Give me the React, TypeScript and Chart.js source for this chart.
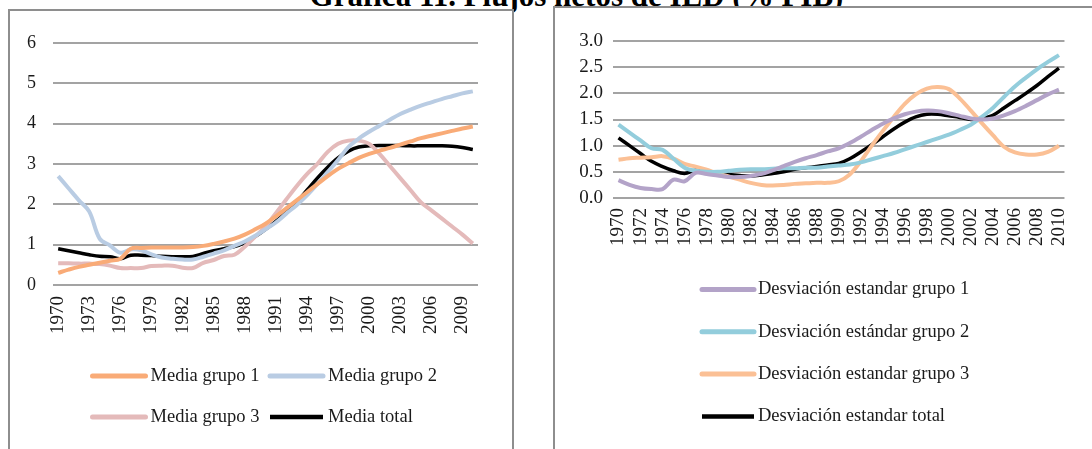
import React, { useEffect, useRef } from "react";
import { Chart, registerables } from "chart.js";

Chart.register(...registerables);

// ---------- DATA ----------
const years = [
  "1970", "1971", "1972", "1973", "1974", "1975", "1976", "1977", "1978", "1979",
  "1980", "1981", "1982", "1983", "1984", "1985", "1986", "1987", "1988", "1989",
  "1990", "1991", "1992", "1993", "1994", "1995", "1996", "1997", "1998", "1999",
  "2000", "2001", "2002", "2003", "2004", "2005", "2006", "2007", "2008", "2009",
  "2010",
];

const mediaGrupo1 = [
  0.3, 0.38, 0.45, 0.5, 0.55, 0.6, 0.65, 0.9, 0.92, 0.93,
  0.93, 0.93, 0.93, 0.94, 0.97, 1.02, 1.08, 1.15, 1.25, 1.38,
  1.52, 1.7, 1.9, 2.1, 2.3, 2.5, 2.7, 2.88, 3.02, 3.15,
  3.25, 3.33, 3.4, 3.48, 3.56, 3.64, 3.7, 3.76, 3.82, 3.88,
  3.93,
];
const mediaGrupo2 = [
  2.7, 2.4, 2.1, 1.82, 1.15, 0.98, 0.8, 0.88, 0.86, 0.76,
  0.68, 0.65, 0.63, 0.63, 0.7, 0.78, 0.86, 0.97, 1.08, 1.22,
  1.38, 1.55, 1.77, 1.98, 2.22, 2.5, 2.8, 3.1, 3.42, 3.63,
  3.8, 3.95, 4.1, 4.24, 4.35, 4.45, 4.53, 4.61, 4.68, 4.75,
  4.8,
];
const mediaGrupo3 = [
  0.54, 0.54, 0.53, 0.53, 0.52, 0.48, 0.42, 0.42, 0.42, 0.47,
  0.48, 0.48, 0.43, 0.42, 0.55, 0.62, 0.72, 0.75, 0.95, 1.2,
  1.45, 1.78, 2.12, 2.45, 2.75, 3.0, 3.3, 3.5, 3.58, 3.58,
  3.5, 3.25, 2.95, 2.65, 2.35, 2.05, 1.85, 1.65, 1.45, 1.25,
  1.03,
];
const mediaTotal = [
  0.9, 0.85, 0.8, 0.75, 0.71, 0.7, 0.65, 0.74, 0.74, 0.73,
  0.71, 0.7, 0.7, 0.71, 0.78, 0.85, 0.9, 0.95, 1.05, 1.2,
  1.38, 1.58, 1.8, 2.05, 2.35, 2.65, 2.92, 3.15, 3.32, 3.42,
  3.45, 3.46, 3.46, 3.46, 3.45, 3.45, 3.45, 3.45, 3.44, 3.41,
  3.36,
];

const desvGrupo1 = [
  0.34, 0.25, 0.19, 0.17, 0.17, 0.35, 0.32, 0.48, 0.46, 0.43,
  0.4, 0.4, 0.42, 0.46, 0.53, 0.61, 0.69, 0.76, 0.82, 0.89,
  0.95, 1.05, 1.17, 1.3, 1.42, 1.52, 1.6, 1.65, 1.67, 1.66,
  1.62, 1.57, 1.52, 1.5, 1.52, 1.58, 1.66, 1.76, 1.87, 1.98,
  2.07,
];
const desvGrupo2 = [
  1.4, 1.25, 1.1, 0.95, 0.92, 0.75, 0.58, 0.52, 0.5, 0.5,
  0.52, 0.54, 0.55, 0.55, 0.56, 0.57, 0.57, 0.58, 0.58, 0.6,
  0.62, 0.64, 0.68, 0.74, 0.8, 0.86, 0.93, 1.0, 1.07, 1.14,
  1.21, 1.3, 1.4, 1.55, 1.72, 1.93, 2.13, 2.3, 2.46, 2.6,
  2.73,
];
const desvGrupo3 = [
  0.73, 0.76, 0.77, 0.78, 0.8, 0.75, 0.65, 0.6, 0.54, 0.47,
  0.41, 0.35, 0.29, 0.25, 0.24, 0.25, 0.27, 0.28, 0.29, 0.29,
  0.32, 0.45, 0.7, 1.0, 1.28, 1.55, 1.8, 1.98, 2.09, 2.12,
  2.08, 1.9, 1.67, 1.43, 1.2, 0.98, 0.87, 0.83, 0.83, 0.88,
  1.0,
];
const desvTotal = [
  1.15, 1.0, 0.85, 0.7, 0.6, 0.52, 0.47, 0.53, 0.51, 0.48,
  0.45, 0.43, 0.42, 0.44, 0.47, 0.5, 0.55, 0.58, 0.6, 0.63,
  0.66, 0.75, 0.88, 1.02, 1.17, 1.32, 1.45, 1.55, 1.6, 1.6,
  1.57, 1.54, 1.5, 1.52, 1.58, 1.72, 1.86, 2.0, 2.15, 2.32,
  2.48,
];

const leftLabels = ["Media grupo 1", "Media grupo 2", "Media grupo 3", "Media total"];
const rightLabels = [
  "Desviación estandar grupo 1",
  "Desviación estándar grupo 2",
  "Desviación estandar grupo 3",
  "Desviación estandar total",
];
const titleText = "Gráfica 11. Flujos netos de IED (% PIB)";

// ---------- STYLE ----------
const FONT = '"Liberation Serif", "Times New Roman", serif';
const GRID = "#a3a3a3";
const TEXT = "#1a1a1a";

const lineLegend = {
  id: "lineLegend",
  afterDraw(chart: any, _args: any, opts: any) {
    const { ctx } = chart;
    ctx.save();
    ctx.font = `${opts.fontSize}px ${FONT}`;
    ctx.textBaseline = "middle";
    ctx.textAlign = "left";
    chart.data.datasets.forEach((d: any, i: number) => {
      const col = i % opts.columns;
      const row = Math.floor(i / opts.columns);
      const x = opts.x + col * opts.colWidth;
      const y = opts.y + row * opts.rowHeight;
      ctx.strokeStyle = d.borderColor;
      ctx.lineWidth = d.borderWidth + 1;
      ctx.lineCap = d.borderColor === "#000000" ? "butt" : "round";
      ctx.beginPath();
      ctx.moveTo(x + 2, y);
      ctx.lineTo(x + opts.sampleWidth - 2, y);
      ctx.stroke();
      ctx.fillStyle = TEXT;
      ctx.fillText(d.label, x + opts.textOffset, y);
    });
    ctx.restore();
  },
};

function makeDataset(label: string, data: number[], color: string, width: number) {
  return {
    label,
    data,
    borderColor: color,
    backgroundColor: color,
    borderWidth: width,
    pointRadius: 0,
    pointHoverRadius: 0,
    tension: 0.35,
    fill: false,
  };
}

function buildOptions(cfg: any): any {
  return {
    responsive: false,
    animation: false,
    devicePixelRatio: 1,
    layout: { padding: cfg.padding },
    plugins: {
      legend: { display: false },
      tooltip: { enabled: false },
      title: { display: false },
      lineLegend: cfg.legend,
    },
    scales: {
      x: {
        type: "category",
        offset: true,
        grid: { display: false, drawTicks: false },
        border: { display: false },
        ticks: {
          autoSkip: false,
          minRotation: 90,
          maxRotation: 90,
          padding: cfg.xPad,
          color: TEXT,
          font: { family: FONT, size: cfg.xFont },
          callback: (_v: any, idx: number) => (idx % cfg.step === 0 ? years[idx] : ""),
        },
        afterFit: (s: any) => {
          s.height = cfg.xHeight;
        },
      },
      y: {
        min: 0,
        max: cfg.max,
        grid: { color: GRID, lineWidth: 2, drawTicks: false },
        border: { display: false },
        ticks: {
          autoSkip: false,
          stepSize: cfg.stepSize,
          padding: cfg.yPad,
          color: TEXT,
          font: { family: FONT, size: cfg.yFont },
          callback: (v: any) => (cfg.decimals ? Number(v).toFixed(1) : String(v)),
        },
        afterFit: (s: any) => {
          s.width = cfg.yWidth;
        },
      },
    },
  };
}

function LineChart(props: { config: any; width: number; height: number; style: any }) {
  const ref = useRef<HTMLCanvasElement | null>(null);
  useEffect(() => {
    if (!ref.current) return;
    const chart = new Chart(ref.current, props.config);
    return () => chart.destroy();
  }, []);
  return <canvas ref={ref} width={props.width} height={props.height} style={props.style} />;
}

export default function App() {
  const leftConfig: any = {
    type: "line",
    data: {
      labels: years,
      datasets: [
        makeDataset(leftLabels[0], mediaGrupo1, "#F9AB77", 4),
        makeDataset(leftLabels[1], mediaGrupo2, "#B9CCE3", 4),
        makeDataset(leftLabels[2], mediaGrupo3, "#E4BABA", 4),
        makeDataset(leftLabels[3], mediaTotal, "#000000", 3.5),
      ],
    },
    options: buildOptions({
      padding: { top: 31, left: 0, right: 32, bottom: 104 },
      xPad: 11,
      xFont: 19,
      xHeight: 60,
      yPad: 17,
      yFont: 18,
      yWidth: 43,
      max: 6,
      stepSize: 1,
      decimals: false,
      step: 3,
      legend: {
        columns: 2,
        x: 80.5,
        y: 364,
        colWidth: 177.5,
        rowHeight: 41,
        sampleWidth: 57,
        textOffset: 60,
        fontSize: 18.5,
      },
    }),
    plugins: [lineLegend],
  };

  const rightConfig: any = {
    type: "line",
    data: {
      labels: years,
      datasets: [
        makeDataset(rightLabels[0], desvGrupo1, "#B3A3C8", 4),
        makeDataset(rightLabels[1], desvGrupo2, "#93CDDC", 4),
        makeDataset(rightLabels[2], desvGrupo3, "#FBC095", 4),
        makeDataset(rightLabels[3], desvTotal, "#000000", 3.5),
      ],
    },
    options: buildOptions({
      padding: { top: 32, left: 0, right: 20, bottom: 191 },
      xPad: 10,
      xFont: 19,
      xHeight: 60,
      yPad: 10,
      yFont: 19,
      yWidth: 57,
      max: 3,
      stepSize: 0.5,
      decimals: true,
      step: 2,
      legend: {
        columns: 1,
        x: 144,
        y: 280.5,
        colWidth: 0,
        rowHeight: 42.3,
        sampleWidth: 56,
        textOffset: 58,
        fontSize: 18.5,
      },
    }),
    plugins: [lineLegend],
  };

  return (
    <div
      style={{
        position: "absolute",
        left: 0,
        top: 0,
        width: 1092,
        height: 449,
        overflow: "hidden",
        background: "#ffffff",
      }}
    >
      <div
        style={{
          position: "absolute",
          left: 0,
          width: 1153,
          top: -20,
          textAlign: "center",
          fontFamily: FONT,
          fontWeight: "bold",
          fontSize: 31,
          lineHeight: "31px",
          whiteSpace: "nowrap",
          color: "#000",
        }}
      >
        {titleText}
      </div>
      <div
        style={{
          position: "absolute",
          left: 8,
          top: 9,
          width: 502,
          height: 480,
          border: "2px solid #8e8e8e",
          background: "#fff",
        }}
      />
      <div
        style={{
          position: "absolute",
          left: 553,
          top: 6,
          width: 600,
          height: 480,
          border: "2px solid #8e8e8e",
          background: "#fff",
        }}
      />
      <LineChart
        config={leftConfig}
        width={500}
        height={437}
        style={{ position: "absolute", left: 10, top: 12 }}
      />
      <LineChart
        config={rightConfig}
        width={536}
        height={440}
        style={{ position: "absolute", left: 556, top: 9 }}
      />
    </div>
  );
}
